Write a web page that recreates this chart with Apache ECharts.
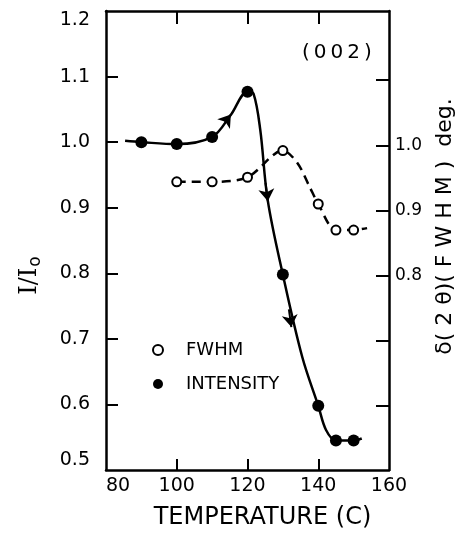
<!DOCTYPE html>
<html>
<head>
<meta charset="utf-8">
<script src="https://cdn.jsdelivr.net/npm/echarts@6/dist/echarts.min.js"></script>
<style>html,body{margin:0;padding:0;background:#fff}#c{width:464px;height:537px}</style>
</head>
<body>
<div id="c"></div>
<script>
// Measured points (temperature in C)
var intensityTemps = [90, 100, 110, 120, 130, 140, 145, 150];
var intensityValues = [1.0, 0.997, 1.008, 1.077, 0.798, 0.598, 0.545, 0.545];
var fwhmTemps = [100, 110, 120, 130, 140, 145, 150];
var fwhmValues = [0.944, 0.944, 0.951, 0.992, 0.910, 0.870, 0.870];
// hand-drawn guide curves
var intensityCurveT = [85.4, 90, 100, 110, 115.2, 120, 121.7, 123.6, 125.7, 130, 135.5, 140, 142.2, 145, 150, 152.3];
var intensityCurveV = [1.002, 1.0, 0.997, 1.008, 1.041, 1.077, 1.074, 1.019, 0.912, 0.798, 0.672, 0.598, 0.561, 0.545, 0.545, 0.548];
var fwhmCurveT = [100, 110, 120, 130, 134.1, 137.5, 140, 145, 150, 153.8];
var fwhmCurveV = [0.944, 0.944, 0.951, 0.992, 0.973, 0.937, 0.910, 0.870, 0.870, 0.873];
// direction arrows on the intensity curve [fromT, fromV, toT, toV]
var intensityArrows = [[113.6, 1.030, 115.3, 1.042], [125.1, 0.938, 125.75, 0.910], [131.7, 0.745, 132.4, 0.718]];
var xTicks = [80, 100, 120, 140, 160];
var leftTicks = [0.5, 0.6, 0.7, 0.8, 0.9, 1.0, 1.1, 1.2];
var rightTickMarks = [0.6, 0.7, 0.8, 0.9, 1.0, 1.1];
var rightTickLabels = [0.8, 0.9, 1.0];

var FONT = "'DejaVu Sans', sans-serif";
var LW = 2.5;

function pairs(a, b) { return a.map(function (t, i) { return [t, b[i]]; }); }

var arrowData = intensityArrows.map(function (a) {
  return {coords: [[a[0], a[1]], [a[2], a[3]]]};
});

var chart = echarts.init(document.getElementById('c'), null, {renderer: 'canvas'});
chart.setOption({
  animation: false,
  backgroundColor: '#fff',
  title: {
    text: '(\u20090\u20090\u20092\u2009)',
    left: 297, top: 38,
    textStyle: {fontFamily: FONT, fontSize: 20, fontWeight: 'normal', color: '#000'}
  },
  legend: {
    orient: 'vertical',
    left: 147, top: 336,
    itemWidth: 10, itemHeight: 10,
    itemGap: 16,
    textStyle: {fontFamily: FONT, fontSize: 18, color: '#000', padding: [0, 0, 0, 18]},
    data: ['FWHM', 'INTENSITY']
  },
  grid: {left: 106, right: 74, top: 11, bottom: 67, show: false},
  xAxis: [{
    type: 'value', min: 80, max: 160, interval: 20, position: 'bottom',
    name: 'TEMPERATURE (C)', nameLocation: 'middle', nameGap: 36,
    nameTextStyle: {fontFamily: FONT, fontSize: 24, color: '#000', padding: [0, 0, 0, 30]},
    axisLine: {show: true, lineStyle: {color: '#000', width: LW}},
    axisTick: {show: true, inside: true, length: 11, lineStyle: {color: '#000', width: 2}, customValues: [100, 120, 140]},
    axisLabel: {fontFamily: FONT, fontSize: 19, color: '#000', margin: 7, customValues: xTicks, alignMinLabel: 'left'},
    splitLine: {show: false}
  }, {
    type: 'value', min: 80, max: 160, interval: 20, position: 'top',
    axisLine: {show: true, lineStyle: {color: '#000', width: LW}},
    axisTick: {show: true, inside: true, length: 13, lineStyle: {color: '#000', width: 2}, customValues: [100, 120, 140]},
    axisLabel: {show: false},
    splitLine: {show: false}
  }],
  yAxis: [{
    type: 'value', min: 0.5, max: 1.2, interval: 0.1, position: 'left',
    name: 'I/I{sub|o}', nameLocation: 'middle', nameGap: 62, nameRotate: 90,
    nameTextStyle: {fontFamily: "'DejaVu Serif', serif", fontSize: 24, color: '#000', padding: [0, 70, 0, 0],
      rich: {sub: {fontFamily: "'DejaVu Sans', sans-serif", fontSize: 17, color: '#000', verticalAlign: 'bottom', padding: [12, 0, 0, 1]}}},
    axisLine: {show: true, lineStyle: {color: '#000', width: LW}},
    axisTick: {show: true, inside: true, length: 12, lineStyle: {color: '#000', width: 2}, customValues: [0.6, 0.7, 0.8, 0.9, 1.0, 1.1]},
    axisLabel: {fontFamily: FONT, fontSize: 19, color: '#000', margin: 16, customValues: leftTicks,
      formatter: function (v) { return v.toFixed(1); }, verticalAlignMaxLabel: 'top', verticalAlignMinLabel: 'bottom'},
    splitLine: {show: false}
  }, {
    type: 'value', min: 0.502, max: 1.206, position: 'right',
    name: '\u03b4( 2 \u03b8)( F W H M )  deg.', nameLocation: 'middle', nameGap: 45, nameRotate: 90,
    nameTextStyle: {fontFamily: FONT, fontSize: 22, color: '#000', padding: [0, 0, 0, 28]},
    axisLine: {show: true, lineStyle: {color: '#000', width: LW}},
    axisTick: {show: true, inside: true, length: 13, lineStyle: {color: '#000', width: 2}, customValues: rightTickMarks},
    axisLabel: {fontFamily: FONT, fontSize: 17, color: '#000', margin: 6, customValues: rightTickLabels,
      formatter: function (v) { return v.toFixed(1); }},
    splitLine: {show: false}
  }],
  series: [{
    name: 'intensity curve', type: 'line', xAxisIndex: 0, yAxisIndex: 0,
    data: pairs(intensityCurveT, intensityCurveV), smooth: 0.35,
    symbol: 'none',
    lineStyle: {color: '#000', width: LW},
    z: 3
  }, {
    name: 'intensity arrows', type: 'lines', coordinateSystem: 'cartesian2d', xAxisIndex: 0, yAxisIndex: 0,
    data: arrowData,
    symbol: ['none', 'arrow'], symbolSize: 12,
    lineStyle: {color: '#000', width: 2, opacity: 1},
    silent: true,
    z: 4
  }, {
    name: 'fwhm curve', type: 'line', xAxisIndex: 0, yAxisIndex: 1,
    data: pairs(fwhmCurveT, fwhmCurveV), smooth: 0.3,
    symbol: 'none',
    lineStyle: {color: '#000', width: LW, type: [9, 6]},
    z: 2
  }, {
    name: 'INTENSITY', type: 'scatter', xAxisIndex: 0, yAxisIndex: 0,
    data: pairs(intensityTemps, intensityValues),
    symbol: 'circle', symbolSize: 12,
    itemStyle: {color: '#000', opacity: 1},
    z: 5
  }, {
    name: 'FWHM', type: 'scatter', xAxisIndex: 0, yAxisIndex: 1,
    data: pairs(fwhmTemps, fwhmValues),
    symbol: 'emptyCircle', symbolSize: 9,
    itemStyle: {color: '#000', borderColor: '#000', borderWidth: 2.6, opacity: 1},
    z: 5
  }]
});
</script>
</body>
</html>
